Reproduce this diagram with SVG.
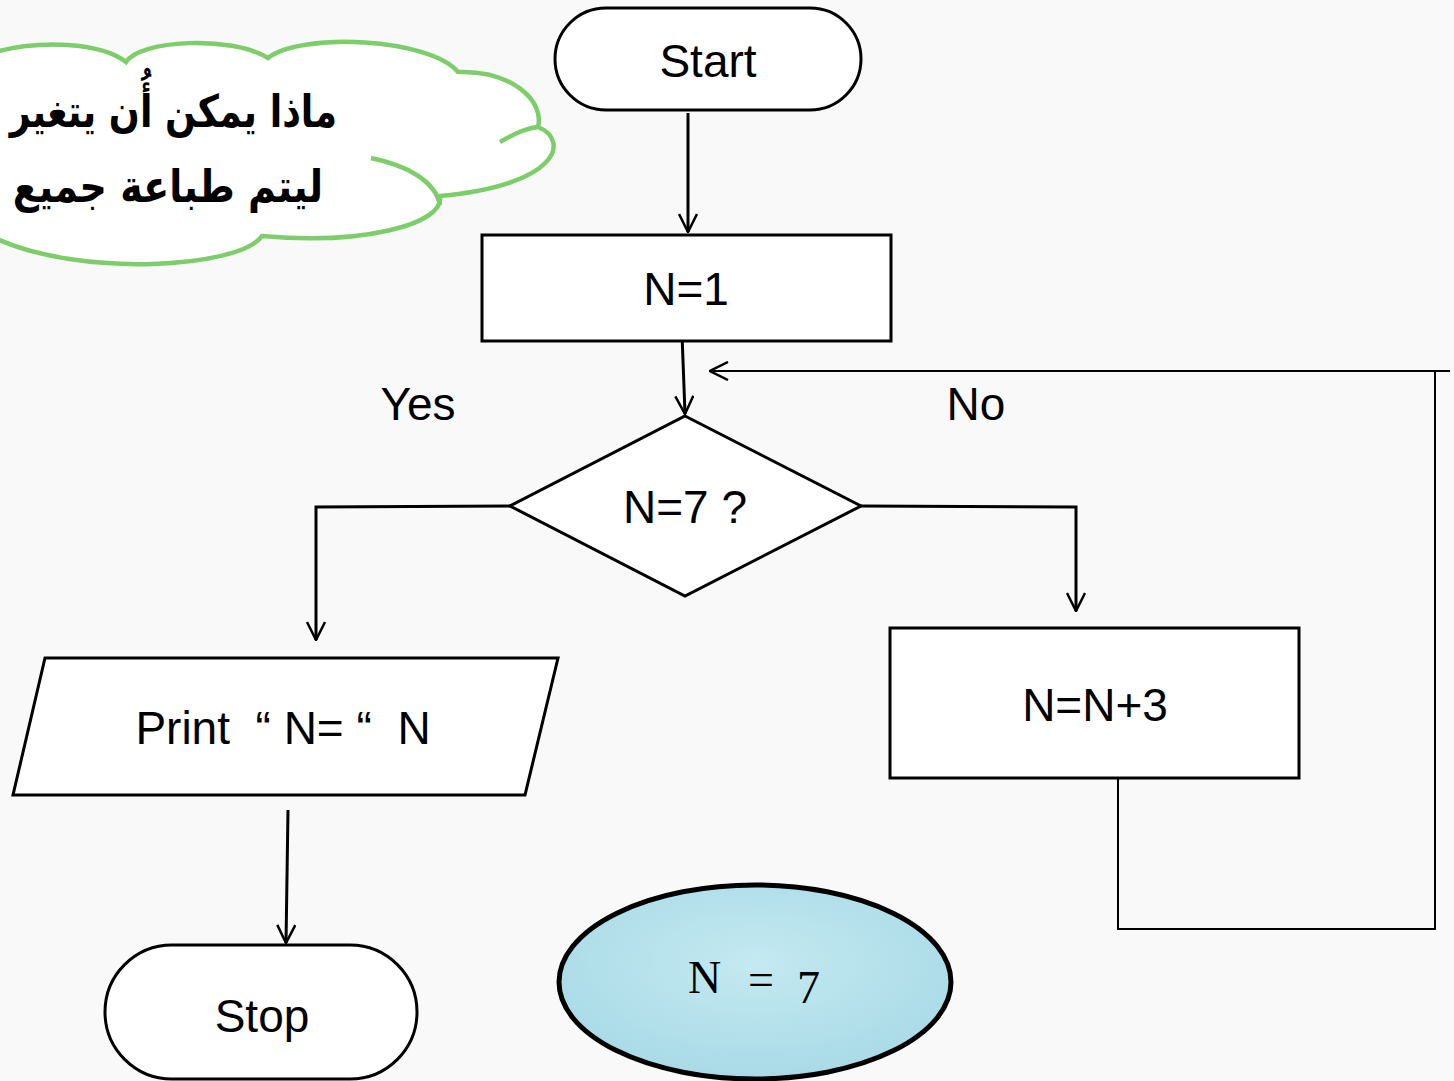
<svg xmlns="http://www.w3.org/2000/svg" width="1454" height="1081" viewBox="0 0 1454 1081">
<style>
.ln{fill:none;stroke:#000;stroke-width:3}
.thin{fill:none;stroke:#000;stroke-width:2}
.box{fill:#fff;stroke:#000;stroke-width:3}
.t{font-family:"Liberation Sans",Arial,sans-serif;font-size:46px;fill:#000;text-anchor:middle}
.ar{font-family:"DejaVu Sans",sans-serif;font-weight:bold;font-size:40px;fill:#000;text-anchor:end}
.cl{fill:none;stroke:#7dcd6a;stroke-width:4.5}
</style>
<defs>
<marker id="ah" viewBox="0 0 20 20" refX="19" refY="10" markerWidth="20" markerHeight="20" markerUnits="userSpaceOnUse" orient="auto">
<path d="M1,1 L19,10 L1,19" fill="none" stroke="#000" stroke-width="2.5"/>
</marker>
<radialGradient id="water" cx="0.5" cy="0.4" r="0.65">
<stop offset="0" stop-color="#c4e9f1"/>
<stop offset="1" stop-color="#a6d9e6"/>
</radialGradient>
</defs>
<rect width="1454" height="1081" fill="#f9f9f9"/>

<g id="cloud">
<path d="M-5,52 C40,40 100,42 126,62 C140,40 230,35 268,58 C300,32 430,38 458,72 C510,70 545,100 538,127 C570,140 560,185 440,196 C445,225 360,245 262,236 C240,268 80,278 -5,238 Z" fill="#fff" stroke="#7dcd6a" stroke-width="4.5"/>
<path class="cl" d="M500,142 C515,133 528,128 538,127"/>
<path class="cl" d="M371,158 C405,165 435,180 440,205"/>
<text class="ar" transform="translate(337,127) scale(0.91,1.12)">ماذا يمكن أُن يتغير</text>
<text class="ar" transform="translate(323,202) scale(0.95,1.12)">ليتم طباعة جميع</text>
</g>

<g id="connectors">
<line class="ln" x1="688" y1="113" x2="688" y2="232" marker-end="url(#ah)"/>
<line class="ln" x1="682" y1="334" x2="685" y2="414" marker-end="url(#ah)"/>
<polyline class="ln" points="510,506 316,507 316,640" marker-end="url(#ah)"/>
<polyline class="ln" points="861,506 1076,507 1076,611" marker-end="url(#ah)"/>
<line class="ln" x1="288" y1="810" x2="286" y2="943" marker-end="url(#ah)"/>
<polyline class="thin" points="1118,779 1118,929 1435,929 1435,371"/>
<line class="thin" x1="1450" y1="371" x2="710" y2="371" marker-end="url(#ah)"/>
<text class="t" x="418" y="420">Yes</text>
<text class="t" x="976" y="420">No</text>
</g>

<g id="start">
<rect class="box" x="555" y="8" width="306" height="102" rx="51"/>
<text class="t" x="708" y="77">Start</text>
</g>

<g id="init">
<rect class="box" x="482" y="235" width="409" height="106"/>
<text class="t" x="686" y="305">N=1</text>
</g>

<g id="decision">
<polygon class="box" points="685,416 861,506 685,596 510,506"/>
<text class="t" x="685" y="523">N=7 ?</text>
</g>

<g id="increment">
<rect class="box" x="890" y="628" width="409" height="150"/>
<text class="t" x="1095" y="721">N=N+3</text>
</g>

<g id="print">
<polygon class="box" points="45,658 558,658 525,795 13,795"/>
<text class="t" x="283" y="744" xml:space="preserve">Print  “ N= “  N</text>
</g>

<g id="stop">
<rect class="box" x="105" y="945" width="312" height="134" rx="67"/>
<text class="t" x="262" y="1032">Stop</text>
</g>

<g id="note">
<ellipse cx="755" cy="982" rx="196" ry="97" fill="url(#water)" stroke="#000" stroke-width="5"/>
<text font-family="'Liberation Serif','Times New Roman',serif" font-size="46" fill="#000" xml:space="preserve"><tspan x="688" y="993">N</tspan><tspan x="748" y="995">=</tspan><tspan x="797" y="1003">7</tspan></text>
</g>
</svg>
